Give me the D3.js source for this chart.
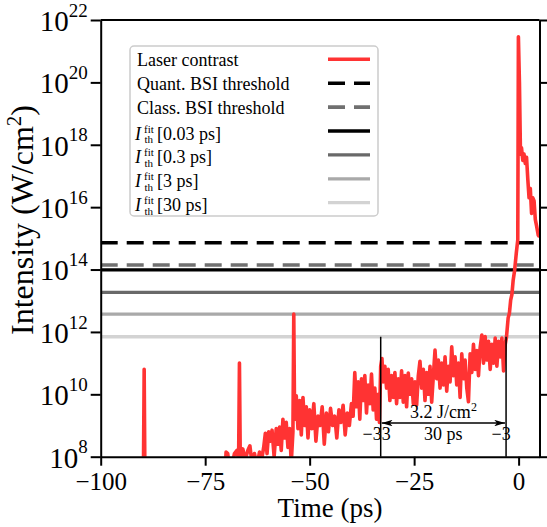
<!DOCTYPE html>
<html><head><meta charset="utf-8">
<script src="https://cdn.jsdelivr.net/npm/d3@7"></script>
<style>
body{margin:0;background:#fff}
svg{display:block}
text{font-family:"Liberation Serif","Times New Roman",serif;fill:#000}
</style>
</head><body>
<svg id="chart" width="547" height="527"></svg>
<script>
// ---------- data ----------
const xTickValues = [-100, -75, -50, -25, 0];
const yTickExponents = [8, 10, 12, 14, 16, 18, 20, 22];

// laser contrast: time (ps) and log10 intensity (W/cm^2)
const contrastTime = [-100,-90.0,-89.8,-89.6,-89.4,-70.4,-70.0,-69.6,-69.2,-68.6,-68.0,-67.4,-67.0,-66.8,-66.6,-66.0,-65.4,-64.8,-64.3,-63.8,-63.2,-62.6,-62.0,-61.5,-61.0,-60.6,-60.2,-59.8,-59.4,-59.0,-58.5,-58.0,-57.6,-57.2,-56.8,-56.4,-56.0,-55.6,-55.2,-54.8,-54.4,-54.0,-53.8,-53.6,-53.2,-52.8,-52.4,-52.0,-51.6,-51.2,-50.8,-50.4,-50.0,-49.5,-49.0,-48.5,-48.0,-47.5,-47.0,-46.5,-46.0,-45.5,-45.0,-44.5,-44.0,-43.5,-43.0,-42.5,-42.0,-41.5,-41.0,-40.5,-40.0,-39.6,-39.2,-38.8,-38.4,-38.0,-37.6,-37.2,-36.8,-36.4,-36.0,-35.6,-35.2,-34.8,-34.4,-34.0,-33.6,-33.3,-33.0,-32.7,-32.4,-32.0,-31.6,-31.2,-30.8,-30.4,-30.0,-29.6,-29.2,-28.8,-28.4,-28.0,-27.6,-27.2,-26.8,-26.4,-26.0,-25.6,-25.2,-24.8,-24.4,-24.0,-23.6,-23.2,-22.8,-22.4,-22.0,-21.6,-21.2,-20.8,-20.4,-20.0,-19.6,-19.2,-18.8,-18.4,-18.0,-17.6,-17.2,-16.8,-16.4,-16.0,-15.6,-15.2,-14.8,-14.4,-14.0,-13.6,-13.2,-12.8,-12.4,-12.0,-11.6,-11.2,-10.8,-10.4,-10.0,-9.6,-9.2,-8.8,-8.4,-8.0,-7.6,-7.2,-6.8,-6.4,-6.0,-5.6,-5.2,-4.8,-4.4,-4.0,-3.6,-3.2,-2.9,-2.5,-2.2,-1.9,-1.6,-1.3,-0.95,-0.55,-0.2,-0.05,0.2,0.45,0.7,1.0,1.3,1.6,1.9,2.2,2.5,2.8,3.1,3.4,3.7,4.0,4.3,4.7,5.0];
const contrastLog10 = [7.0,7.0,7.0,10.8,7.0,7.0,8.15,8.1,7.6,7.7,8.1,8.2,7.9,11.0,7.9,8.25,7.9,8.2,8.35,7.8,8.1,7.7,8.15,7.9,8.3,8.75,8.1,8.8,8.5,8.85,8.0,8.9,8.4,8.95,8.2,9.2,8.6,9.1,8.3,8.9,7.8,8.8,12.57,9.2,9.95,8.9,9.8,8.7,9.9,9.0,9.6,8.6,9.5,8.9,9.7,8.5,9.3,9.0,9.6,8.4,9.4,8.8,9.55,9.0,9.3,8.6,9.5,9.1,9.65,8.7,9.4,9.0,9.7,9.3,10.7,9.6,10.4,9.2,10.5,9.8,10.6,9.4,10.3,9.7,10.65,9.5,10.2,9.2,10.0,9.1,10.9,11.15,10.4,10.9,10.2,10.8,9.8,10.6,9.9,10.7,9.7,10.5,9.9,10.75,9.75,10.6,9.6,10.68,10.0,10.5,9.7,10.4,9.65,10.6,11.06,10.2,10.8,9.8,10.7,10.0,10.9,9.75,10.6,11.42,10.5,11.1,10.2,11.0,10.3,11.2,10.1,10.9,10.4,11.52,10.6,11.2,10.3,11.0,9.9,11.3,10.5,11.1,10.2,9.76,11.3,10.7,11.6,10.8,11.4,10.6,11.5,11.9,11.0,11.85,11.1,11.7,10.8,11.6,11.0,11.8,10.9,11.7,11.2,11.8,10.75,11.6,11.84,12.45,12.6,13.02,13.2,13.66,13.98,14.53,14.95,21.46,20.0,17.7,17.9,17.5,17.7,17.4,17.6,16.9,16.3,16.6,15.8,16.3,16.2,15.6,15.4,15.1,15.05];

// horizontal thresholds (W/cm^2)
const thresholdLabels = ["Quant. BSI threshold", "Class. BSI threshold", "0.03 ps", "0.3 ps", "3 ps", "30 ps"];
const thresholdValues = [7.2e14, 1.4e14, 9.7e13, 1.86e13, 3.7e12, 7.0e11];

// annotation
const windowStart = -33, windowEnd = -3;
const fluenceLabel = "3.2 J/cm";
const durationLabel = "30 ps";
const arrowLevel = 1.2e9;

// ---------- layout ----------
const L = 100.7, R = 539.5, T = 20, B = 456.7;
const svg = d3.select("#chart");
const x = d3.scaleLinear().domain([-100, 5]).range([L, R]);
const y = d3.scaleLog().domain([1e8, 1e22]).range([B, T]);

const styles = [
  {color:"#000000", dash:"17,9", width:3.6},
  {color:"#707070", dash:"17,9", width:3.6},
  {color:"#000000", dash:null, width:3.3},
  {color:"#696969", dash:null, width:3.3},
  {color:"#a9a9a9", dash:null, width:3.3},
  {color:"#d3d3d3", dash:null, width:3.3}
];
const red = "#ff3333";

const defs = svg.append("defs");
defs.append("clipPath").attr("id","clip")
  .append("rect").attr("x",L).attr("y",T).attr("width",R-L).attr("height",B-T);

const plot = svg.append("g").attr("clip-path","url(#clip)");

// threshold lines
thresholdValues.forEach((v,i)=>{
  plot.append("line")
    .attr("x1", x(-100)).attr("x2", x(5))
    .attr("y1", y(v)).attr("y2", y(v))
    .attr("stroke", styles[i].color)
    .attr("stroke-width", styles[i].width)
    .attr("stroke-dasharray", styles[i].dash);
});

// laser contrast
const pts = contrastTime.map((t,i)=>[t, Math.pow(10, contrastLog10[i])]);
plot.append("path")
  .datum(pts)
  .attr("fill","none")
  .attr("stroke", red)
  .attr("stroke-width", 3.6)
  .attr("stroke-linejoin","round")
  .attr("d", d3.line().x(d=>x(d[0])).y(d=>y(d[1])));

// annotation lines
[windowStart, windowEnd].forEach(t=>{
  svg.append("line")
    .attr("x1", x(t)).attr("x2", x(t))
    .attr("y1", y(thresholdValues[5])).attr("y2", B)
    .attr("stroke","#000").attr("stroke-width",1.5);
});
// double arrow
defs.append("marker").attr("id","ah").attr("viewBox","0 0 10 6")
  .attr("refX",10).attr("refY",3).attr("markerWidth",11).attr("markerHeight",6.5)
  .attr("markerUnits","userSpaceOnUse").attr("orient","auto-start-reverse")
  .append("path").attr("d","M0,0 L10,3 L0,6 L2.5,3 Z").attr("fill","#000");
svg.append("line")
  .attr("x1", x(windowStart)+1).attr("x2", x(windowEnd)-1)
  .attr("y1", y(arrowLevel)).attr("y2", y(arrowLevel))
  .attr("stroke","#000").attr("stroke-width",1.5)
  .attr("marker-start","url(#ah)").attr("marker-end","url(#ah)");

const fl = svg.append("text")
  .attr("x", x((windowStart+windowEnd)/2)).attr("y", y(arrowLevel)-5)
  .attr("text-anchor","middle").attr("font-size",18);
fl.append("tspan").text(fluenceLabel);
fl.append("tspan").attr("font-size",12).attr("dy",-7).text("2");
svg.append("text")
  .attr("x", x((windowStart+windowEnd)/2)).attr("y", y(arrowLevel)+17)
  .attr("text-anchor","middle").attr("font-size",18).text(durationLabel);
svg.append("text").attr("x", x(windowStart)-4).attr("y", y(arrowLevel)+17)
  .attr("text-anchor","middle").attr("font-size",18).text("\u2212" + Math.abs(windowStart));
svg.append("text").attr("x", x(windowEnd)-5).attr("y", y(arrowLevel)+17)
  .attr("text-anchor","middle").attr("font-size",18).text("\u2212" + Math.abs(windowEnd));

// ---------- axes ----------
const xAxis = svg.append("g").attr("transform",`translate(0,${B})`)
  .call(d3.axisBottom(x).tickValues(xTickValues).tickSize(9).tickSizeOuter(0)
    .tickFormat(d=> d<0 ? "\u2212"+Math.abs(d) : String(d)));
xAxis.selectAll("text").attr("font-size",25).attr("dy",0).attr("y",33);

const yAxis = svg.append("g").attr("transform",`translate(${L},0)`)
  .call(d3.axisLeft(y).tickValues(yTickExponents.map(e=>Math.pow(10,e))).tickSize(10).tickSizeOuter(0).tickFormat(""));
yAxis.selectAll(".tick").each(function(d,i){
  const t = d3.select(this).append("text").attr("x",-13).attr("dy","0.36em")
    .attr("text-anchor","end").attr("font-size",29);
  t.append("tspan").text("10");
  t.append("tspan").attr("font-size",19).attr("dy","-0.75em").text(yTickExponents[i]);
});

svg.append("g").attr("transform",`translate(${R},0)`)
  .call(d3.axisRight(y).tickValues(yTickExponents.map(e=>Math.pow(10,e))).tickSize(10).tickSizeOuter(0).tickFormat(""));

svg.append("line").attr("x1",L).attr("x2",R).attr("y1",T).attr("y2",T).attr("stroke","#000").attr("stroke-width",2);

svg.selectAll(".domain").attr("stroke","#000").attr("stroke-width",2);
svg.selectAll(".tick line").attr("stroke","#000").attr("stroke-width",2);

// axis labels
svg.append("text").attr("x",330).attr("y",517).attr("text-anchor","middle")
  .attr("font-size",27).text("Time (ps)");
const yl = svg.append("text").attr("transform","translate(33,220) rotate(-90)")
  .attr("text-anchor","middle").attr("font-size",32);
yl.append("tspan").text("Intensity (W/cm");
yl.append("tspan").attr("font-size",21).attr("dy",-12).text("2");
yl.append("tspan").attr("dy",12).text(")");

// ---------- legend ----------
const lg = svg.append("g");
lg.append("rect").attr("x",130).attr("y",46).attr("width",248).attr("height",170)
  .attr("rx",4).attr("fill","#fff").attr("fill-opacity",0.85)
  .attr("stroke","#cccccc").attr("stroke-width",1.5);
const rowY0 = 59.3, rowStep = 23.9;
const legendItems = [{label:"Laser contrast", color:red, dash:null, width:3.6}]
  .concat(thresholdLabels.map((l,i)=>({label:l, color:styles[i].color, dash:styles[i].dash, width:styles[i].width, fit:i>=2})));
legendItems.forEach((it,i)=>{
  const cy = rowY0 + i*rowStep;
  lg.append("line").attr("x1",328).attr("x2",370).attr("y1",cy).attr("y2",cy)
    .attr("stroke",it.color).attr("stroke-width",it.width).attr("stroke-dasharray",it.dash);
  if(!it.fit){
    lg.append("text").attr("x",137).attr("y",cy+7).attr("font-size",18).text(it.label);
  } else {
    const t = lg.append("text").attr("x",135).attr("y",cy+8.5).attr("font-size",18);
    t.append("tspan").attr("font-style","italic").text("I");
    t.append("tspan").attr("font-size",11).attr("dx",3).attr("dy",-7).text("fit");
    t.append("tspan").attr("font-size",11).attr("x",144.5).attr("dy",10.5).text("th");
    t.append("tspan").attr("x",157).attr("dy",-3.5).text("[" + it.label + "]");
  }
});
</script>
</body></html>
